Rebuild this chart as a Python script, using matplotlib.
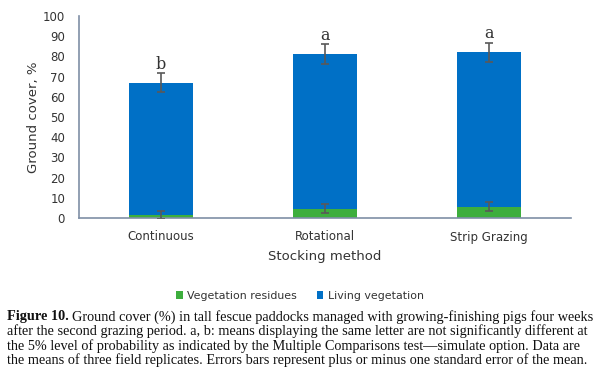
import matplotlib
matplotlib.use("Agg")
import matplotlib.pyplot as plt
import numpy as np

categories = ["Continuous", "Rotational", "Strip Grazing"]
residues = [1.7, 4.6, 5.6]
residues_err = [2.0, 2.1, 2.1]
living = [65.3, 76.4, 76.4]
living_err = [4.8, 4.9, 4.8]
letters = ["b", "a", "a"]
yticks = [0, 10, 20, 30, 40, 50, 60, 70, 80, 90, 100]

W, H = 600, 392
fig = plt.figure(figsize=(W / 100, H / 100), dpi=100)
ax = fig.add_axes([79 / W, 1 - 218 / H, (571 - 79) / W, 202 / H])

x = np.arange(len(categories))
green = "#3DAE3D"
blue = "#0070C6"
errc = "#595959"
bw = 0.39
ax.bar(x, residues, bw, color=green, label="Vegetation residues", zorder=2)
ax.bar(x, living, bw, bottom=residues, color=blue, label="Living vegetation", zorder=2)
ax.errorbar(x, residues, yerr=residues_err, fmt="none", ecolor=errc, elinewidth=1.2,
            capsize=3, capthick=1.2, zorder=3)
tops = np.array(residues) + np.array(living)
ax.errorbar(x, tops, yerr=living_err, fmt="none", ecolor=errc, elinewidth=1.2,
            capsize=3, capthick=1.2, zorder=3)
for xi, t, e, l in zip(x, tops, living_err, letters):
    ax.text(xi, t + e + 0.2, l, ha="center", va="bottom", fontsize=11.5,
            family="DejaVu Serif", color="#333333")

ax.set_xlim(-0.5, 2.5)
ax.set_ylim(0, 100)
ax.set_yticks(yticks)
ax.set_xticks(x)
ax.set_xticklabels(categories)
ax.tick_params(length=0, labelsize=8.5, colors="#333333")
ax.tick_params(axis="x", pad=9)
ax.tick_params(axis="y", pad=10)
for s in ["top", "right"]:
    ax.spines[s].set_visible(False)
for s in ["left", "bottom"]:
    ax.spines[s].set_color("#7F8FA6")
    ax.spines[s].set_linewidth(1.2)
ax.set_ylabel("Ground cover, %", fontsize=9.5, color="#333333", labelpad=2)
ax.set_xlabel("Stocking method", fontsize=9.5, color="#333333", labelpad=5)

leg = fig.legend(loc="center", bbox_to_anchor=(300 / W, 1 - 296 / H), ncol=2,
                 frameon=False, fontsize=7.9, handlelength=0.6, handleheight=0.7,
                 handletextpad=0.4, columnspacing=1.8)
for t in leg.get_texts():
    t.set_color("#333333")

cap_lines = [
    "Ground cover (%) in tall fescue paddocks managed with growing-finishing pigs four weeks",
    "after the second grazing period. a, b: means displaying the same letter are not significantly different at",
    "the 5% level of probability as indicated by the Multiple Comparisons test\u2014simulate option. Data are",
    "the means of three field replicates. Errors bars represent plus or minus one standard error of the mean.",
]
ys = [316.7, 331.2, 345.7, 360.2]
fs = 10.3
fam = "Liberation Serif"
t0 = fig.text(7 / W, 1 - ys[0] / H, "Figure 10.", fontsize=fs, family=fam, weight="bold",
              va="center", ha="left", color="#111111")
fig.canvas.draw()
bb = t0.get_window_extent()
fig.text((bb.x1 + 3) / W, 1 - ys[0] / H, cap_lines[0], fontsize=fs, family=fam,
         va="center", ha="left", color="#111111")
for line, y in zip(cap_lines[1:], ys[1:]):
    fig.text(7 / W, 1 - y / H, line, fontsize=fs, family=fam, va="center", ha="left",
             color="#111111")

fig.savefig("out.png", dpi=100)
